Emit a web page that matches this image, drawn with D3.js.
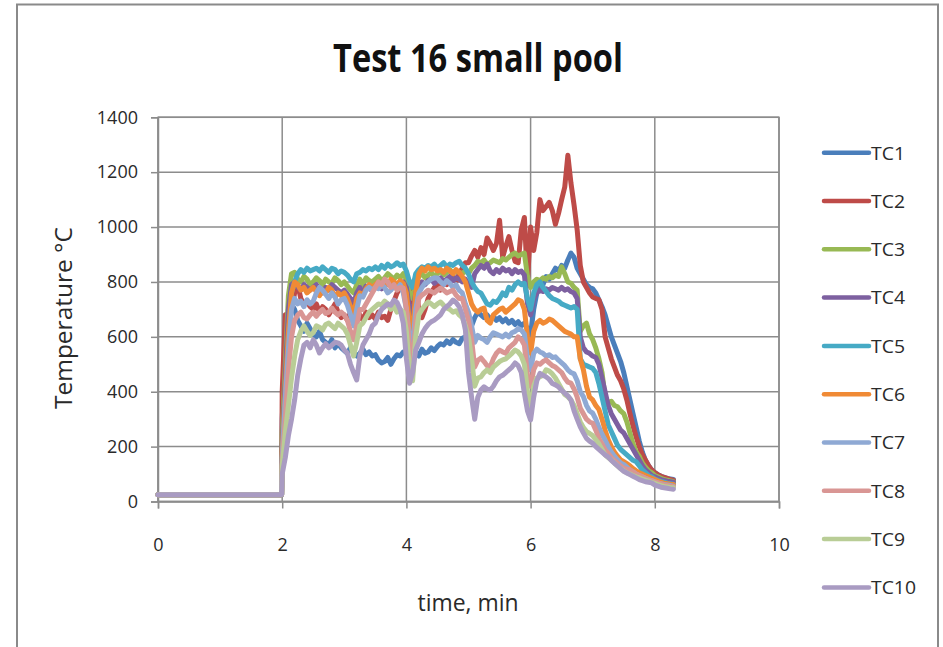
<!DOCTYPE html>
<html>
<head>
<meta charset="utf-8">
<script src="https://cdn.jsdelivr.net/npm/d3@7/dist/d3.min.js"></script>
<style>
  html, body { margin: 0; padding: 0; background: #fff; }
  svg { display: block; }
  text { font-family: "Open Sans", "Liberation Sans", sans-serif; }
</style>
</head>
<body>
<svg id="chart" width="943" height="647"></svg>
<script>
// Sample times, minutes
const minutes = [0, 1.99,
  2.00, 2.05, 2.10, 2.15, 2.20, 2.25, 2.30, 2.35, 2.40, 2.45,
  2.50, 2.55, 2.60, 2.65, 2.70, 2.75, 2.80, 2.85, 2.90, 2.95,
  3.00, 3.05, 3.10, 3.15, 3.20, 3.25, 3.30, 3.35, 3.40, 3.45,
  3.50, 3.55, 3.60, 3.65, 3.70, 3.75, 3.80, 3.85, 3.90, 3.95,
  4.00, 4.05, 4.10, 4.15, 4.20, 4.25, 4.30, 4.35, 4.40, 4.45,
  4.50, 4.55, 4.60, 4.65, 4.70, 4.75, 4.80, 4.85, 4.90, 4.95,
  5.00, 5.05, 5.10, 5.15, 5.20, 5.25, 5.30, 5.35, 5.40, 5.45,
  5.50, 5.55, 5.60, 5.65, 5.70, 5.75, 5.80, 5.85, 5.90, 5.95,
  6.00, 6.05, 6.10, 6.15, 6.20, 6.25, 6.30, 6.35, 6.40, 6.45,
  6.50, 6.55, 6.60, 6.65, 6.70, 6.75, 6.80, 6.85, 6.90, 6.95,
  7.00, 7.05, 7.10, 7.15, 7.20, 7.25, 7.30, 7.35, 7.40, 7.45,
  7.50, 7.55, 7.60, 7.65, 7.70, 7.75, 7.80, 7.85, 7.90, 7.95,
  8.00, 8.05, 8.10, 8.15, 8.20, 8.25, 8.30];

// Thermocouple readings, °C, one value per sample time
const tc1 = [25, 25,
  300, 560, 680, 720, 700, 660, 640, 620, 650, 630,
  610, 600, 620, 590, 580, 570, 590, 560, 575, 560,
  550, 540, 560, 545, 530, 540, 555, 535, 545, 530,
  535, 515, 505, 510, 525, 500, 520, 535, 530, 545,
  540, 525, 550, 545, 530, 555, 540, 545, 560, 550,
  565, 575, 570, 585, 575, 590, 580, 575, 595, 600,
  610, 640, 670, 690, 680, 670, 680, 665, 675, 660,
  670, 655, 665, 650, 660, 645, 655, 640, 650, 630,
  610, 700, 760, 800, 790, 820, 810, 830, 850, 840,
  860, 850, 880, 905, 890, 850, 830, 810, 790, 780,
  775, 760, 735, 710, 680, 640, 600, 570, 540, 510,
  470, 420, 370, 320, 270, 220, 180, 150, 130, 115,
  105, 98, 92, 88, 84, 82, 80];

const tc2 = [25, 25,
  400, 680, 685, 700, 760, 790, 740, 720, 730, 710,
  700, 720, 690, 710, 700, 680, 700, 720, 690, 670,
  680, 660, 690, 700, 670, 680, 660, 690, 670, 680,
  665, 690, 670, 675, 660, 700, 730, 760, 780, 770,
  740, 720, 800, 780, 700, 670, 700, 740, 760, 780,
  790, 770, 800, 790, 810, 820, 800, 830, 850, 870,
  870, 895, 915, 890, 925, 900, 960, 940, 915, 940,
  1025, 890, 930, 965, 915, 875, 870, 990, 1035, 800,
  1000, 915, 980, 1100, 1060, 1075, 1090, 1060, 1010, 1050,
  1100, 1146, 1262, 1160, 1080, 990, 860, 800, 780, 760,
  745, 740, 735, 700, 600, 560, 520, 490, 460, 440,
  410, 370, 320, 275, 235, 200, 170, 150, 130, 115,
  105, 98, 92, 88, 84, 80, 78];

const tc3 = [25, 25,
  250, 500, 750, 830, 835, 810, 800, 820, 810, 790,
  800, 815, 805, 790, 810, 800, 795, 815, 805, 790,
  800, 785, 770, 760, 790, 810, 790, 815, 805, 800,
  810, 820, 805, 815, 830, 820, 810, 825, 815, 830,
  810, 760, 740, 790, 820, 830, 815, 825, 835, 820,
  830, 840, 825, 835, 845, 830, 840, 835, 830, 840,
  830, 850, 860, 875, 870, 880, 865, 870, 880, 875,
  870, 885, 880, 890, 900, 905, 895, 900, 905, 820,
  780, 800, 810, 805, 815, 810, 820, 815, 825, 820,
  855, 830, 800, 795, 780, 770, 620, 640, 650, 610,
  590, 560, 520, 470, 380, 360, 365, 350, 345, 330,
  320, 290, 250, 210, 180, 165, 140, 125, 112, 105,
  95, 90, 85, 80, 78, 75, 72];

const tc4 = [25, 25,
  200, 450, 700, 790, 800, 780, 770, 790, 780, 770,
  780, 790, 775, 760, 780, 770, 790, 780, 770, 760,
  770, 755, 740, 720, 760, 780, 760, 785, 775, 770,
  780, 790, 775, 785, 800, 790, 780, 795, 790, 800,
  780, 700, 680, 760, 790, 800, 790, 805, 810, 795,
  805, 815, 800, 810, 820, 805, 815, 810, 800, 810,
  790, 780, 830, 845, 860, 850, 865, 840, 830, 845,
  835, 850, 840, 845, 830, 845, 835, 840, 825, 720,
  680, 740, 760, 770, 765, 775, 770, 780, 775, 770,
  780, 770, 775, 765, 760, 740, 600, 560, 545, 540,
  530, 525, 500, 450, 400, 350, 320, 300, 280, 260,
  250, 230, 210, 190, 170, 150, 130, 115, 105, 95,
  90, 85, 80, 77, 74, 72, 70];

const tc5 = [25, 25,
  150, 350, 600, 760, 800, 830, 845, 835, 850, 840,
  845, 850, 840, 855, 845, 835, 850, 845, 830, 840,
  835, 825, 810, 800, 830, 835, 845, 840, 850, 845,
  855, 845, 860, 850, 865, 855, 860, 870, 860, 865,
  840, 800, 780, 830, 845, 855, 850, 860, 855, 865,
  850, 860, 870, 855, 865, 860, 870, 875, 860, 850,
  830, 800, 780, 765, 760, 740, 720, 715, 730, 725,
  740, 760, 750, 780, 770, 790, 800, 790, 795, 740,
  700, 760, 790, 800, 780, 765, 750, 740, 735, 730,
  720, 715, 710, 705, 710, 700, 520, 500, 495, 490,
  485, 470, 430, 380, 330, 280, 255, 230, 205, 190,
  180, 170, 160, 150, 145, 130, 115, 105, 95, 90,
  82, 77, 73, 70, 67, 65, 63];

const tc6 = [25, 25,
  180, 400, 620, 760, 800, 790, 770, 780, 760, 770,
  780, 765, 750, 770, 760, 780, 770, 745, 760, 750,
  760, 740, 710, 680, 740, 760, 750, 775, 790, 780,
  790, 800, 785, 800, 790, 810, 800, 790, 805, 795,
  760, 650, 620, 760, 830, 850, 840, 855, 845, 850,
  840, 845, 835, 850, 840, 830, 845, 835, 820, 800,
  760, 720, 700, 690, 700, 705, 660, 650, 680, 690,
  700, 705, 690, 700, 710, 720, 735, 730, 700, 600,
  540, 620, 650, 660, 650, 655, 665, 660, 650, 640,
  630, 620, 615, 610, 600, 600, 520, 480, 420, 380,
  370, 350, 335, 300, 260, 225, 200, 180, 165, 152,
  145, 138, 130, 120, 112, 105, 100, 95, 90, 85,
  80, 75, 70, 67, 65, 63, 62];

const tc7 = [25, 25,
  160, 380, 560, 700, 740, 720, 730, 710, 735, 720,
  730, 760, 780, 770, 755, 740, 760, 745, 720, 735,
  740, 715, 680, 640, 700, 750, 745, 770, 780, 770,
  780, 775, 790, 780, 760, 770, 785, 775, 790, 760,
  700, 600, 560, 700, 760, 780, 795, 800, 810, 815,
  814, 800, 790, 805, 795, 780, 790, 770, 760, 720,
  690, 640, 580, 605, 595, 590, 580, 600, 615, 610,
  605, 600, 610, 600, 615, 620, 630, 625, 610, 520,
  480, 540, 555, 545, 540, 530, 535, 525, 527, 515,
  505, 495, 480, 470, 465, 440, 400, 382, 350, 330,
  322, 300, 270, 245, 224, 200, 180, 165, 152, 140,
  135, 125, 115, 108, 100, 95, 90, 85, 80, 76,
  72, 68, 65, 62, 60, 58, 56];

const tc8 = [25, 25,
  140, 300, 480, 600, 660, 680, 690, 670, 665, 680,
  690, 675, 690, 700, 685, 690, 705, 690, 680, 690,
  680, 660, 620, 590, 640, 700, 700, 720, 740, 760,
  780, 800, 790, 810, 800, 780, 790, 770, 780, 778,
  700, 560, 500, 650, 740, 752, 760, 770, 765, 760,
  770, 778, 770, 760, 765, 770, 752, 740, 740, 700,
  660, 590, 490, 515, 523, 510, 495, 491, 520, 540,
  552, 545, 540, 560, 570, 580, 600, 590, 570, 460,
  420, 480, 505, 500, 510, 516, 505, 495, 490, 480,
  470, 450, 435, 431, 410, 380, 340, 320, 300, 290,
  285, 260, 230, 210, 188, 175, 160, 150, 140, 130,
  122, 118, 115, 108, 100, 95, 90, 85, 80, 76,
  72, 68, 64, 60, 58, 56, 54];

const tc9 = [25, 25,
  130, 250, 350, 450, 530, 590, 620, 640, 620, 605,
  615, 640, 635, 625, 645, 650, 640, 630, 650, 640,
  630, 610, 570, 530, 580, 640, 650, 670, 690, 700,
  710, 720, 716, 730, 720, 700, 710, 690, 700, 690,
  620, 480, 440, 600, 680, 700, 715, 727, 720, 710,
  720, 727, 715, 705, 700, 690, 695, 680, 670, 640,
  600, 520, 420, 450, 454, 470, 480, 470, 490, 500,
  510, 516, 520, 530, 540, 552, 545, 530, 500, 400,
  340, 420, 450, 454, 460, 480, 475, 465, 450, 430,
  410, 390, 382, 370, 350, 320, 290, 270, 255, 248,
  240, 225, 210, 190, 170, 160, 151, 140, 130, 120,
  112, 105, 100, 95, 90, 86, 82, 78, 74, 70,
  66, 62, 58, 55, 53, 51, 50];

const tc10 = [25, 25,
  100, 160, 240, 300, 370, 460, 520, 570, 580, 560,
  589, 570, 541, 560, 575, 560, 570, 580, 578, 570,
  552, 540, 500, 470, 443, 530, 570, 590, 610, 640,
  650, 680, 700, 710, 720, 715, 734, 725, 700, 650,
  520, 431, 470, 552, 580, 610, 630, 645, 655, 661,
  670, 680, 700, 710, 720, 734, 725, 710, 680, 625,
  470, 380, 300, 380, 406, 418, 410, 406, 420, 440,
  454, 460, 470, 480, 490, 505, 495, 470, 394, 330,
  297, 380, 440, 467, 460, 454, 445, 430, 425, 418,
  405, 395, 385, 370, 330, 300, 272, 250, 230, 220,
  212, 200, 190, 180, 170, 162, 150, 140, 130, 120,
  110, 104, 98, 92, 86, 80, 76, 72, 70, 68,
  60, 56, 52, 50, 48, 46, 45];

const seriesNames = ["TC1", "TC2", "TC3", "TC4", "TC5", "TC6", "TC7", "TC8", "TC9", "TC10"];
const seriesValues = [tc1, tc2, tc3, tc4, tc5, tc6, tc7, tc8, tc9, tc10];
const seriesColors = ["#4a7ebb", "#be4b48", "#98b954", "#7d60a0", "#46aac5",
                      "#f08a35", "#8fa9d4", "#d99694", "#b9cd96", "#a99bc2"];

const xTicks = [0, 2, 4, 6, 8, 10];
const yTicks = [0, 200, 400, 600, 800, 1000, 1200, 1400];

const svg = d3.select("#chart");

// Outer chart frame
svg.append("rect")
  .attr("x", 17).attr("y", 4.5)
  .attr("width", 921).attr("height", 660)
  .attr("fill", "#fff")
  .attr("stroke", "#8a8a8a").attr("stroke-width", 2);

const plot = { left: 158, right: 779, top: 117.3, bottom: 501.5 };

const x = d3.scaleLinear().domain([0, 10]).range([plot.left, plot.right]);
const y = d3.scaleLinear().domain([0, 1400]).range([plot.bottom, plot.top]);

const gridColor = "#8c8c8c";

// Gridlines
const grid = svg.append("g");
grid.selectAll(".hg").data(yTicks).join("line")
  .attr("x1", plot.left).attr("x2", plot.right)
  .attr("y1", d => y(d)).attr("y2", d => y(d))
  .attr("stroke", gridColor).attr("stroke-width", 1.5);
grid.selectAll(".vg").data(xTicks).join("line")
  .attr("x1", d => x(d)).attr("x2", d => x(d))
  .attr("y1", plot.top).attr("y2", plot.bottom)
  .attr("stroke", gridColor).attr("stroke-width", 1.5);

// Axes
const yAxis = svg.append("g")
  .attr("transform", `translate(${plot.left},0)`)
  .call(d3.axisLeft(y).tickValues(yTicks).tickSize(7).tickPadding(13).tickFormat(d3.format("d")));
const xAxis = svg.append("g")
  .attr("transform", `translate(0,${plot.bottom})`)
  .call(d3.axisBottom(x).tickValues(xTicks).tickSize(7).tickPadding(30).tickFormat(d3.format("d")));

[yAxis, xAxis].forEach(g => {
  g.select(".domain").attr("stroke", gridColor).attr("stroke-width", 1.5);
  g.selectAll(".tick line").attr("stroke", gridColor).attr("stroke-width", 1.5);
  g.selectAll(".tick text")
    .attr("fill", "#2a2a2a")
    .style("font-size", "18px")
    .style("font-family", "'Open Sans', sans-serif");
});

// Plot-area frame
svg.append("rect")
  .attr("x", plot.left).attr("y", plot.top)
  .attr("width", plot.right - plot.left).attr("height", plot.bottom - plot.top)
  .attr("fill", "none").attr("stroke", gridColor).attr("stroke-width", 1.5);

// Temperature traces, first series at the bottom
const line = d3.line()
  .x((d, i) => x(minutes[i]))
  .y(d => y(d));

svg.append("g")
  .selectAll("path")
  .data(seriesValues)
  .join("path")
  .attr("d", d => line(d))
  .attr("fill", "none")
  .attr("stroke", (d, i) => seriesColors[i])
  .attr("stroke-width", 5)
  .attr("stroke-linejoin", "round")
  .attr("stroke-linecap", "round");

// Title
svg.append("text")
  .attr("x", 478).attr("y", 72)
  .attr("text-anchor", "middle")
  .attr("fill", "#111")
  .style("font-size", "39px")
  .style("font-weight", "bold")
  .attr("textLength", 290)
  .attr("lengthAdjust", "spacingAndGlyphs")
  .text("Test 16 small pool");

// Axis titles
svg.append("text")
  .attr("transform", "translate(72,318) rotate(-90)")
  .attr("text-anchor", "middle")
  .attr("fill", "#2a2a2a")
  .style("font-size", "23px")
  .attr("textLength", 182)
  .attr("lengthAdjust", "spacingAndGlyphs")
  .text("Temperature °C");

svg.append("text")
  .attr("x", 468).attr("y", 611)
  .attr("text-anchor", "middle")
  .attr("fill", "#2a2a2a")
  .style("font-size", "23px")
  .attr("textLength", 101)
  .attr("lengthAdjust", "spacingAndGlyphs")
  .text("time, min");

// Legend
const legend = svg.append("g");
const legendRows = legend.selectAll("g").data(seriesNames).join("g")
  .attr("transform", (d, i) => `translate(0,${152.7 + i * 48.3})`);
legendRows.append("line")
  .attr("x1", 824).attr("x2", 869)
  .attr("stroke", (d, i) => seriesColors[i])
  .attr("stroke-width", 4.5)
  .attr("stroke-linecap", "round");
legendRows.append("text")
  .attr("x", 871).attr("y", 0).attr("dy", "0.36em")
  .attr("fill", "#2a2a2a")
  .style("font-size", "19px")
  .attr("textLength", (d) => d.length === 4 ? 45 : 34)
  .attr("lengthAdjust", "spacingAndGlyphs")
  .text(d => d);
</script>
</body>
</html>
